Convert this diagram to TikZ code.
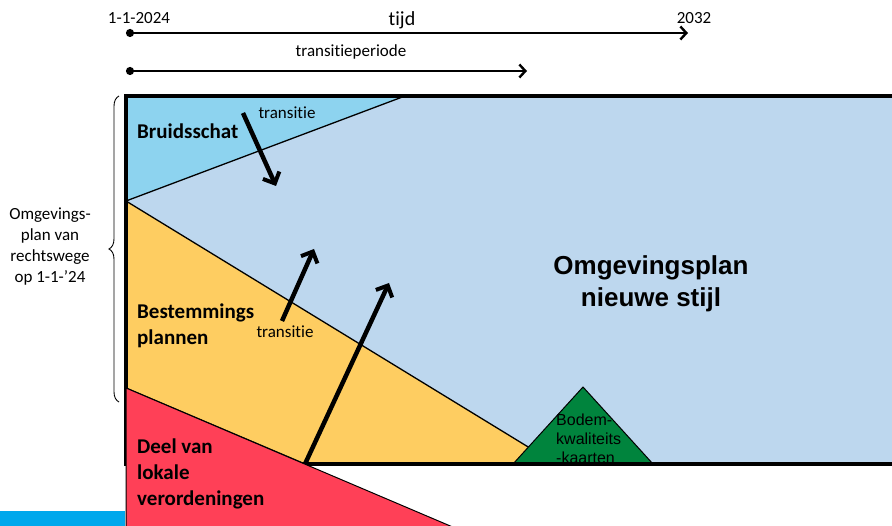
\documentclass[tikz,border=0pt]{standalone}
\usepackage{fontspec}
\setmainfont{Carlito}[RawFeature=-liga]
\newfontfamily\arialfont{Liberation Sans}
\usepackage{xcolor}
\usepackage{tikz}
\usetikzlibrary{arrows.meta,decorations.pathreplacing}

\definecolor{nieuwblauw}{HTML}{BDD7EE}
\definecolor{bruidblauw}{HTML}{8DD3EF}
\definecolor{bpgeel}{HTML}{FECD61}
\definecolor{verordrood}{HTML}{FF4057}
\definecolor{bodemgroen}{HTML}{00843D}
\definecolor{randblauw}{HTML}{00A8EC}

\begin{document}
\begin{tikzpicture}
		[
			x=1pt,y=-1pt,
			every node/.style={inner sep=0pt,text=black},
			vlak/.style={draw=black,line width=1.3pt},
			tijdpijl/.style={line width=2.4pt,{Circle[length=8pt]}-{Straight Barb[length=6pt,width=13pt,line width=2.4pt]}},
			overgang/.style={line width=4.5pt,-{Straight Barb[length=9pt,width=18pt,line width=4pt]}},
			klein/.style={font=\fontsize{17}{20}\selectfont},
			soort/.style={anchor=west,align=left,font=\fontsize{21}{26}\selectfont\bfseries}]
		\useasboundingbox (0,0) rectangle (892,526);
		\clip (0,0) rectangle (892,526);
		% tijdlijn
		\coordinate (start) at (126,33);
		\coordinate (eind) at (688,33);
		\coordinate (tstart) at (126,71);
		\coordinate (teind) at (527,71);
		\draw[tijdpijl] (start) -- (eind);
		\draw[tijdpijl] (tstart) -- (teind);
		\node[font=\fontsize{17}{20}\selectfont] (jaar0) at (139,18) {1-1-2024};
		\node[font=\fontsize{20}{24}\selectfont] (tijd) at (402,20) {tijd};
		\node[font=\fontsize{17}{20}\selectfont] (jaar1) at (694,18) {2032};
		\node[klein] (periode) at (351,52) {transitieperiode};
		% vlakken
		\fill[nieuwblauw] (126,96) rectangle (896,464);
		\path[vlak,fill=bruidblauw] (126,96) -- (405,96) -- (126,201) -- cycle;
		\path[vlak,fill=bpgeel] (126,201) -- (556,464) -- (305,464) -- (126,388) -- cycle;
		\path[vlak,line width=1pt,fill=bodemgroen] (513,464) -- (583,387) -- (653,464) -- cycle;
		\draw[line width=4pt] (896,96) -- (126,96) -- (126,464) -- (896,464);
		\path[vlak,line width=1pt,fill=verordrood] (126,388) -- (455,528) -- (126,528) -- cycle;
		\fill[randblauw] (0,511) rectangle (125,526);
		% accolade links
		\draw[line width=0.9pt,decorate,decoration={brace,amplitude=10pt}]
			(119,402) -- (119,96);
		\node[align=center,font=\fontsize{17}{21}\selectfont] (vanrechtswege) at (50,247)
			{Omgevings-\\plan van\\rechtswege\\op 1-1-'24};
		% overgangen
		\coordinate (b0) at (243,113);
		\coordinate (b1) at (276,186);
		\coordinate (p0) at (282,321);
		\coordinate (p1) at (314,249);
		\coordinate (v0) at (305,464);
		\coordinate (v1) at (389,283);
		\foreach \van/\naar in {b0/b1,p0/p1,v0/v1}
			\draw[overgang] (\van) -- (\naar);
		\node[klein] (transitie1) at (287,113) {transitie};
		\node[klein] (transitie2) at (285,332) {transitie};
		% teksten
		\node[soort] (bruidsschat) at (137,131) {Bruidsschat};
		\node[soort] (bestemmingsplannen) at (137,326) {Bestemmings\\plannen};
		\node[soort] (verordeningen) at (137,474) {Deel van\\lokale\\verordeningen};
		\node[align=center,font=\arialfont\bfseries\fontsize{26}{32}\selectfont] (nieuw) at (651,284)
			{Omgevingsplan\\nieuwe stijl};
		\node[anchor=west,align=left,font=\arialfont\fontsize{16}{19}\selectfont] (bodem) at (556,439)
			{Bodem-\\kwaliteits\\-kaarten};
	\end{tikzpicture}
\end{document}
